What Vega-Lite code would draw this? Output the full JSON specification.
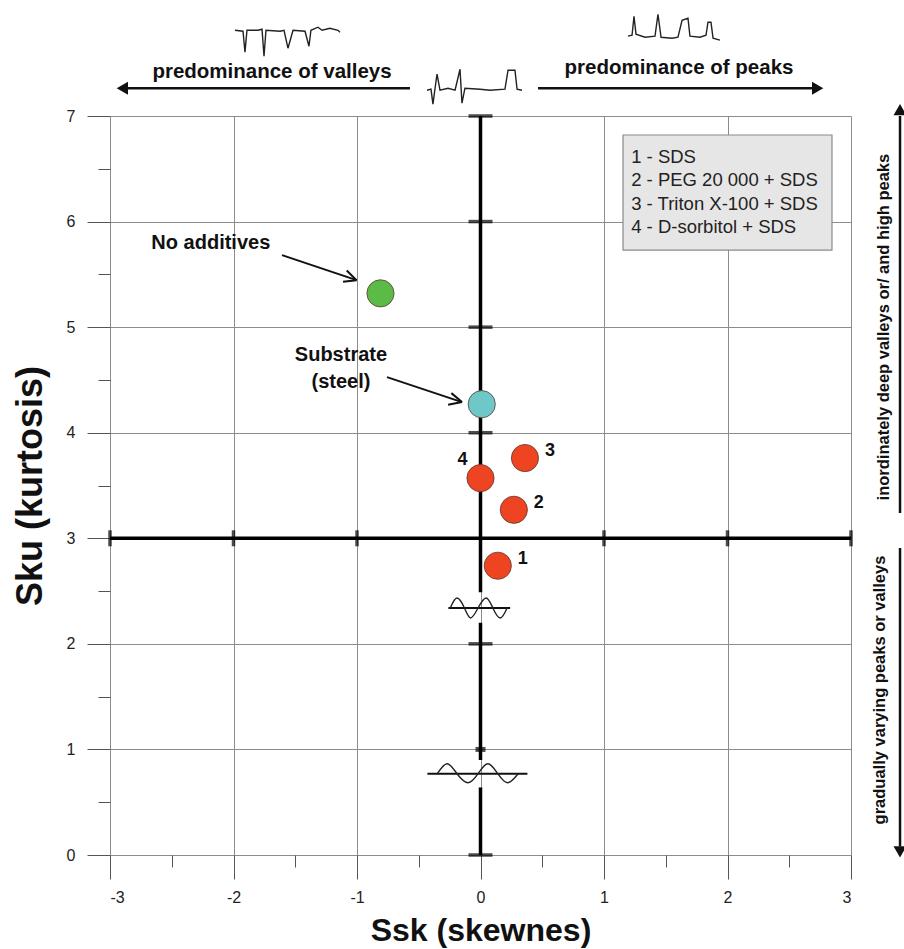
{
  "$schema": "https://vega.github.io/schema/vega-lite/v6.json",
  "width": 741,
  "height": 739,
  "autosize": "none",
  "padding": {"left": 110, "top": 116, "right": 53, "bottom": 94},
  "background": "white",
  "config": {"font": "Liberation Sans", "view": {"stroke": null}},
  "datasets": {
    "pts": [
      {"x": -0.81, "y": 5.32, "kind": "No additives"},
      {"x": 0.01, "y": 4.27, "kind": "Substrate"},
      {"x": 0.14, "y": 2.74, "kind": "1"},
      {"x": 0.27, "y": 3.27, "kind": "2"},
      {"x": 0.36, "y": 3.76, "kind": "3"},
      {"x": 0.0, "y": 3.57, "kind": "4"}
    ],
    "thick": [
      {"x": -3, "y": 3, "x2": 3, "y2": 3},
      {"x": 0, "y": 2.49, "x2": 0, "y2": 7},
      {"x": 0, "y": 0.9, "x2": 0, "y2": 2.2},
      {"x": 0, "y": 0, "x2": 0, "y2": 0.64}
    ],
    "vticks": [
      {"x": -3, "y": 3}, {"x": -2, "y": 3}, {"x": -1, "y": 3},
      {"x": 1, "y": 3}, {"x": 2, "y": 3}, {"x": 3, "y": 3}
    ],
    "hticks": [
      {"x": 0, "y": 0}, {"x": 0, "y": 2}, {"x": 0, "y": 4},
      {"x": 0, "y": 5}, {"x": 0, "y": 6}, {"x": 0, "y": 7}
    ],
    "base": [
      {"x": -0.26, "y": 2.34, "x2": 0.24, "y2": 2.34},
      {"x": -0.43, "y": 0.77, "x2": 0.38, "y2": 0.77}
    ],
    "curves": [
      {"g": "w1", "i": 1, "x": -0.245, "y": 2.34},
      {"g": "w1", "i": 2, "x": -0.19, "y": 2.435},
      {"g": "w1", "i": 3, "x": -0.13, "y": 2.34},
      {"g": "w1", "i": 4, "x": -0.08, "y": 2.245},
      {"g": "w1", "i": 5, "x": -0.02, "y": 2.34},
      {"g": "w1", "i": 6, "x": 0.045, "y": 2.435},
      {"g": "w1", "i": 7, "x": 0.1, "y": 2.34},
      {"g": "w1", "i": 8, "x": 0.16, "y": 2.245},
      {"g": "w1", "i": 9, "x": 0.215, "y": 2.34},
      {"g": "w2", "i": 1, "x": -0.35, "y": 0.77},
      {"g": "w2", "i": 2, "x": -0.27, "y": 0.865},
      {"g": "w2", "i": 3, "x": -0.19, "y": 0.77},
      {"g": "w2", "i": 4, "x": -0.1, "y": 0.685},
      {"g": "w2", "i": 5, "x": -0.02, "y": 0.77},
      {"g": "w2", "i": 6, "x": 0.06, "y": 0.865},
      {"g": "w2", "i": 7, "x": 0.14, "y": 0.77},
      {"g": "w2", "i": 8, "x": 0.22, "y": 0.685},
      {"g": "w2", "i": 9, "x": 0.305, "y": 0.77}
    ],
    "profiles": [
      {"g": "v", "i": 1, "x": -1.988, "y": 7.812},
      {"g": "v", "i": 2, "x": -1.923, "y": 7.803},
      {"g": "v", "i": 3, "x": -1.907, "y": 7.604},
      {"g": "v", "i": 4, "x": -1.891, "y": 7.812},
      {"g": "v", "i": 5, "x": -1.802, "y": 7.812},
      {"g": "v", "i": 6, "x": -1.769, "y": 7.822},
      {"g": "v", "i": 7, "x": -1.753, "y": 7.566},
      {"g": "v", "i": 8, "x": -1.737, "y": 7.812},
      {"g": "v", "i": 9, "x": -1.623, "y": 7.803},
      {"g": "v", "i": 10, "x": -1.591, "y": 7.812},
      {"g": "v", "i": 11, "x": -1.559, "y": 7.642},
      {"g": "v", "i": 12, "x": -1.518, "y": 7.812},
      {"g": "v", "i": 13, "x": -1.421, "y": 7.803},
      {"g": "v", "i": 14, "x": -1.389, "y": 7.661},
      {"g": "v", "i": 15, "x": -1.373, "y": 7.812},
      {"g": "v", "i": 16, "x": -1.316, "y": 7.841},
      {"g": "v", "i": 17, "x": -1.283, "y": 7.812},
      {"g": "v", "i": 18, "x": -1.219, "y": 7.831},
      {"g": "v", "i": 19, "x": -1.154, "y": 7.812},
      {"g": "v", "i": 20, "x": -1.138, "y": 7.794},
      {"g": "p", "i": 1, "x": 1.194, "y": 7.756},
      {"g": "p", "i": 2, "x": 1.227, "y": 7.765},
      {"g": "p", "i": 3, "x": 1.243, "y": 7.945},
      {"g": "p", "i": 4, "x": 1.259, "y": 7.775},
      {"g": "p", "i": 5, "x": 1.332, "y": 7.746},
      {"g": "p", "i": 6, "x": 1.413, "y": 7.756},
      {"g": "p", "i": 7, "x": 1.437, "y": 7.964},
      {"g": "p", "i": 8, "x": 1.462, "y": 7.746},
      {"g": "p", "i": 9, "x": 1.551, "y": 7.737},
      {"g": "p", "i": 10, "x": 1.599, "y": 7.746},
      {"g": "p", "i": 11, "x": 1.632, "y": 7.907},
      {"g": "p", "i": 12, "x": 1.68, "y": 7.926},
      {"g": "p", "i": 13, "x": 1.696, "y": 7.756},
      {"g": "p", "i": 14, "x": 1.777, "y": 7.746},
      {"g": "p", "i": 15, "x": 1.826, "y": 7.765},
      {"g": "p", "i": 16, "x": 1.842, "y": 7.888},
      {"g": "p", "i": 17, "x": 1.866, "y": 7.888},
      {"g": "p", "i": 18, "x": 1.883, "y": 7.737},
      {"g": "p", "i": 19, "x": 1.939, "y": 7.718},
      {"g": "m", "i": 1, "x": -0.433, "y": 7.244},
      {"g": "m", "i": 2, "x": -0.401, "y": 7.254},
      {"g": "m", "i": 3, "x": -0.385, "y": 7.112},
      {"g": "m", "i": 4, "x": -0.368, "y": 7.263},
      {"g": "m", "i": 5, "x": -0.352, "y": 7.396},
      {"g": "m", "i": 6, "x": -0.328, "y": 7.244},
      {"g": "m", "i": 7, "x": -0.263, "y": 7.263},
      {"g": "m", "i": 8, "x": -0.206, "y": 7.244},
      {"g": "m", "i": 9, "x": -0.166, "y": 7.443},
      {"g": "m", "i": 10, "x": -0.15, "y": 7.121},
      {"g": "m", "i": 11, "x": -0.126, "y": 7.263},
      {"g": "m", "i": 12, "x": -0.004, "y": 7.254},
      {"g": "m", "i": 13, "x": 0.077, "y": 7.244},
      {"g": "m", "i": 14, "x": 0.198, "y": 7.254},
      {"g": "m", "i": 15, "x": 0.223, "y": 7.434},
      {"g": "m", "i": 16, "x": 0.279, "y": 7.434},
      {"g": "m", "i": 17, "x": 0.296, "y": 7.254},
      {"g": "m", "i": 18, "x": 0.336, "y": 7.244}
    ],
    "thinArrows": [
      {"x": -1.607, "y": 5.682, "x2": -1.004, "y2": 5.445},
      {"x": -1.083, "y": 5.536, "x2": -1.004, "y2": 5.445},
      {"x": -1.113, "y": 5.43, "x2": -1.004, "y2": 5.445},
      {"x": -0.757, "y": 4.527, "x2": -0.15, "y2": 4.29},
      {"x": -0.236, "y": 4.375, "x2": -0.15, "y2": 4.29},
      {"x": -0.262, "y": 4.265, "x2": -0.15, "y2": 4.29}
    ],
    "bigArrows": [
      {"x": -0.571, "y": 7.263, "x2": -2.88, "y2": 7.263},
      {"x": 0.466, "y": 7.263, "x2": 2.7, "y2": 7.263},
      {"x": 3.397, "y": 3.239, "x2": 3.397, "y2": 7.0},
      {"x": 3.397, "y": 2.907, "x2": 3.397, "y2": 0.08}
    ],
    "heads": [
      {"x": -2.9, "y": 7.263, "dir": "left"},
      {"x": 2.73, "y": 7.263, "dir": "right"},
      {"x": 3.397, "y": 7.06, "dir": "up"},
      {"x": 3.397, "y": 0.03, "dir": "down"}
    ],
    "legendBox": [{"x": 1.154, "x2": 2.846, "y": 6.82, "y2": 5.73}],
    "legendText": [
      {"x": 1.22, "y": 6.61, "t": "1 - SDS"},
      {"x": 1.22, "y": 6.39, "t": "2 - PEG 20 000 + SDS"},
      {"x": 1.22, "y": 6.17, "t": "3 - Triton X-100 + SDS"},
      {"x": 1.22, "y": 5.95, "t": "4 - D-sorbitol + SDS"}
    ],
    "notes": [
      {"x": -2.665, "y": 5.8, "t": "No additives"}
    ],
    "topText": [
      {"x": -1.688, "y": 7.415, "t": "predominance of valleys"},
      {"x": 1.607, "y": 7.453, "t": "predominance of peaks"}
    ],
    "sideText": [
      {"x": 3.267, "y": 5.0, "t": "inordinately deep valleys or/ and high peaks"},
      {"x": 3.235, "y": 1.5625, "t": "gradually varying peaks or valleys"}
    ],
    "grid": [{"x": 0, "y": 0}]
  },
  "resolve": {"axis": {"x": "independent", "y": "independent"}},
  "layer": [
    {
      "data": {"name": "grid"},
      "mark": {"type": "point", "opacity": 0},
      "encoding": {
        "x": {
          "field": "x", "type": "quantitative",
          "scale": {"domain": [-3, 3], "nice": false, "zero": false},
          "axis": {
            "values": [-3, -2, -1, 0, 1, 2, 3], "grid": true, "gridColor": "#8c8c8c", "gridWidth": 1,
            "tickSize": 24, "tickColor": "#555", "domain": false, "labelFontSize": 16, "labelPadding": 10,
            "labelColor": "#222", "labelExpr": "'' + datum.value", "title": "Ssk (skewnes)", "titleFontSize": 32,
            "titleFontWeight": "bold", "titleColor": "#111", "titleY": 75, "titleBaseline": "middle", "orient": "bottom"
          }
        },
        "y": {
          "field": "y", "type": "quantitative",
          "scale": {"domain": [0, 7], "nice": false, "zero": false},
          "axis": {
            "values": [0, 1, 2, 3, 4, 5, 6, 7], "grid": true, "gridColor": "#8c8c8c", "gridWidth": 1,
            "tickSize": 23, "tickColor": "#555", "domain": false, "labelFontSize": 16, "labelPadding": 12,
            "labelColor": "#222", "labelExpr": "'' + datum.value", "title": "Sku (kurtosis)", "titleFontSize": 36,
            "titleFontWeight": "bold", "titleColor": "#111", "titleX": -80, "titleY": 369.5,
            "titleAngle": 270, "titleAlign": "center", "titleBaseline": "middle", "orient": "left"
          }
        }
      }
    },
    {
      "data": {"name": "grid"},
      "mark": {"type": "point", "opacity": 0},
      "encoding": {
        "x": {
          "field": "x", "type": "quantitative",
          "axis": {"values": [-2.5, -1.5, -0.5, 0.5, 1.5, 2.5], "grid": false, "tickSize": 12, "tickColor": "#555",
            "domain": false, "labels": false, "title": null, "orient": "bottom"}
        },
        "y": {
          "field": "y", "type": "quantitative",
          "axis": {"values": [0.5, 1.5, 2.5, 3.5, 4.5, 5.5, 6.5], "grid": false, "tickSize": 12, "tickColor": "#555",
            "domain": false, "labels": false, "title": null, "orient": "left"}
        }
      }
    },
    {
      "data": {"name": "legendBox"},
      "mark": {"type": "rect", "fill": "#e6e6e6", "stroke": "#8a8a8a", "strokeWidth": 1.2},
      "encoding": {
        "x": {"field": "x", "type": "quantitative", "axis": null},
        "x2": {"field": "x2"},
        "y": {"field": "y", "type": "quantitative", "axis": null},
        "y2": {"field": "y2"}
      }
    },
    {
      "data": {"name": "legendText"},
      "mark": {"type": "text", "align": "left", "baseline": "middle", "fontSize": 18.5, "color": "#222"},
      "encoding": {
        "x": {"field": "x", "type": "quantitative", "axis": null},
        "y": {"field": "y", "type": "quantitative", "axis": null},
        "text": {"field": "t"}
      }
    },
    {
      "data": {"name": "thick"},
      "mark": {"type": "rule", "color": "#000", "strokeWidth": 3.5},
      "encoding": {
        "x": {"field": "x", "type": "quantitative", "axis": null},
        "x2": {"field": "x2"},
        "y": {"field": "y", "type": "quantitative", "axis": null},
        "y2": {"field": "y2"}
      }
    },
    {
      "data": {"name": "vticks"},
      "mark": {"type": "tick", "orient": "vertical", "color": "#000", "size": 16, "thickness": 3.5},
      "encoding": {
        "x": {"field": "x", "type": "quantitative", "axis": null},
        "y": {"field": "y", "type": "quantitative", "axis": null}
      }
    },
    {
      "data": {"name": "hticks"},
      "mark": {"type": "tick", "orient": "horizontal", "color": "#000", "size": 24, "thickness": 3.5},
      "encoding": {
        "x": {"field": "x", "type": "quantitative", "axis": null},
        "y": {"field": "y", "type": "quantitative", "axis": null}
      }
    },
    {
      "data": {"values": [{"x": 0, "y": 1}]},
      "mark": {"type": "tick", "orient": "horizontal", "color": "#000", "size": 10, "thickness": 5},
      "encoding": {
        "x": {"field": "x", "type": "quantitative", "axis": null},
        "y": {"field": "y", "type": "quantitative", "axis": null}
      }
    },
    {
      "data": {"name": "base"},
      "mark": {"type": "rule", "color": "#111", "strokeWidth": 2},
      "encoding": {
        "x": {"field": "x", "type": "quantitative", "axis": null},
        "x2": {"field": "x2"},
        "y": {"field": "y", "type": "quantitative", "axis": null},
        "y2": {"field": "y2"}
      }
    },
    {
      "data": {"name": "curves"},
      "mark": {"type": "line", "color": "#222", "strokeWidth": 1.4, "interpolate": "natural", "clip": false},
      "encoding": {
        "x": {"field": "x", "type": "quantitative", "axis": null},
        "y": {"field": "y", "type": "quantitative", "axis": null},
        "detail": {"field": "g"},
        "order": {"field": "i"}
      }
    },
    {
      "data": {"name": "profiles"},
      "mark": {"type": "line", "color": "#222", "strokeWidth": 1.4, "clip": false},
      "encoding": {
        "x": {"field": "x", "type": "quantitative", "axis": null},
        "y": {"field": "y", "type": "quantitative", "axis": null},
        "detail": {"field": "g"},
        "order": {"field": "i"}
      }
    },
    {
      "data": {"name": "thinArrows"},
      "mark": {"type": "rule", "color": "#111", "strokeWidth": 2},
      "encoding": {
        "x": {"field": "x", "type": "quantitative", "axis": null},
        "x2": {"field": "x2"},
        "y": {"field": "y", "type": "quantitative", "axis": null},
        "y2": {"field": "y2"}
      }
    },
    {
      "data": {"name": "bigArrows"},
      "mark": {"type": "rule", "color": "#111", "strokeWidth": 2.5, "clip": false},
      "encoding": {
        "x": {"field": "x", "type": "quantitative", "axis": null},
        "x2": {"field": "x2"},
        "y": {"field": "y", "type": "quantitative", "axis": null},
        "y2": {"field": "y2"}
      }
    },
    {
      "data": {"name": "heads"},
      "mark": {"type": "point", "filled": true, "color": "#111", "size": 170, "opacity": 1, "clip": false},
      "encoding": {
        "x": {"field": "x", "type": "quantitative", "axis": null},
        "y": {"field": "y", "type": "quantitative", "axis": null},
        "shape": {"field": "dir", "type": "nominal", "legend": null,
          "scale": {"domain": ["left", "right", "up", "down"], "range": ["triangle-left", "triangle-right", "triangle-up", "triangle-down"]}}
      }
    },
    {
      "data": {"name": "pts"},
      "mark": {"type": "circle", "size": 740, "opacity": 1, "stroke": "#5a3a30", "strokeWidth": 0.8},
      "encoding": {
        "x": {"field": "x", "type": "quantitative", "axis": null},
        "y": {"field": "y", "type": "quantitative", "axis": null},
        "color": {"field": "kind", "type": "nominal", "legend": null,
          "scale": {"domain": ["No additives", "Substrate", "1", "2", "3", "4"],
            "range": ["#5cbb46", "#6ec8c8", "#ee4422", "#ee4422", "#ee4422", "#ee4422"]}}
      }
    },
    {
      "data": {"name": "pts"},
      "transform": [{"filter": "datum.kind == '1' || datum.kind == '2' || datum.kind == '3'"}],
      "mark": {"type": "text", "dx": 25, "dy": -7, "fontSize": 18, "fontWeight": "bold", "color": "#111"},
      "encoding": {
        "x": {"field": "x", "type": "quantitative", "axis": null},
        "y": {"field": "y", "type": "quantitative", "axis": null},
        "text": {"field": "kind"}
      }
    },
    {
      "data": {"name": "pts"},
      "transform": [{"filter": "datum.kind == '4'"}],
      "mark": {"type": "text", "dx": -18, "dy": -18, "fontSize": 18, "fontWeight": "bold", "color": "#111"},
      "encoding": {
        "x": {"field": "x", "type": "quantitative", "axis": null},
        "y": {"field": "y", "type": "quantitative", "axis": null},
        "text": {"field": "kind"}
      }
    },
    {
      "data": {"name": "notes"},
      "mark": {"type": "text", "align": "left", "baseline": "middle", "fontSize": 20, "fontWeight": "bold", "color": "#111"},
      "encoding": {
        "x": {"field": "x", "type": "quantitative", "axis": null},
        "y": {"field": "y", "type": "quantitative", "axis": null},
        "text": {"field": "t"}
      }
    },
    {
      "data": {"values": [{"x": -1.13, "y": 4.735, "t": ["Substrate", "(steel)"]}]},
      "mark": {"type": "text", "align": "center", "baseline": "middle", "fontSize": 20, "fontWeight": "bold", "color": "#111", "lineHeight": 27},
      "encoding": {
        "x": {"field": "x", "type": "quantitative", "axis": null},
        "y": {"field": "y", "type": "quantitative", "axis": null},
        "text": {"field": "t"}
      }
    },
    {
      "data": {"name": "topText"},
      "mark": {"type": "text", "align": "center", "baseline": "middle", "fontSize": 20.5, "fontWeight": "bold", "color": "#111", "clip": false},
      "encoding": {
        "x": {"field": "x", "type": "quantitative", "axis": null},
        "y": {"field": "y", "type": "quantitative", "axis": null},
        "text": {"field": "t"}
      }
    },
    {
      "data": {"name": "sideText"},
      "mark": {"type": "text", "align": "center", "baseline": "middle", "angle": 270, "fontSize": 16.5, "fontWeight": "bold", "color": "#111", "clip": false},
      "encoding": {
        "x": {"field": "x", "type": "quantitative", "axis": null},
        "y": {"field": "y", "type": "quantitative", "axis": null},
        "text": {"field": "t"}
      }
    }
  ]
}
